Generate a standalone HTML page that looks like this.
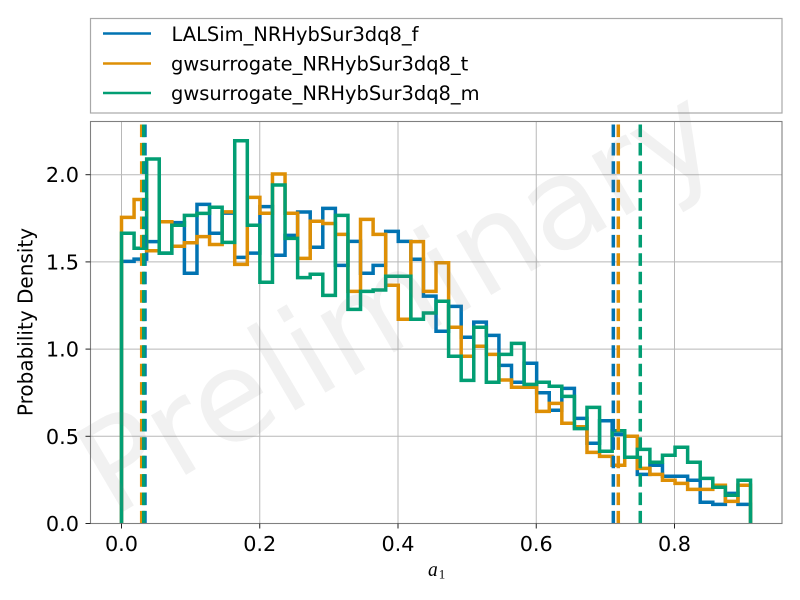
<!DOCTYPE html>
<html>
<head>
<meta charset="utf-8">
<title>Probability density of a1</title>
<style>
html,body{margin:0;padding:0;background:#fff;}
svg{display:block;font-family:"DejaVu Sans","Liberation Sans",sans-serif;}
</style>
</head>
<body>
<svg id="chart" xmlns="http://www.w3.org/2000/svg" width="800" height="600" viewBox="0 0 800 600">
  <rect x="0" y="0" width="800" height="600" fill="#ffffff"/>
  <g id="grid"></g>
  <g id="series"></g>
  <g id="medians"></g>
  <rect x="90.5" y="121.5" width="691.5" height="402" fill="none" stroke="#808080" stroke-width="1.1"/>
  <g id="ticks"></g>
  <text transform="translate(32.5,322) rotate(-90)" text-anchor="middle" font-size="20" fill="#000">Probability Density</text>
  <text x="428" y="576" font-family="'Liberation Serif',serif" font-style="italic" font-size="19.5" fill="#000">a<tspan font-style="normal" font-size="13" dy="2.5" dx="1">1</tspan></text>
  <g>
    <rect x="90.5" y="18.5" width="691.5" height="94.5" fill="#ffffff" stroke="#a8a8a8" stroke-width="1.2"/>
    <line x1="103" x2="151" y1="33.5" y2="33.5" stroke="#0173b2" stroke-width="2.5"/>
    <text x="171.5" y="41" font-size="19.45" fill="#000">LALSim_NRHybSur3dq8_f</text>
    <line x1="103" x2="151" y1="63.5" y2="63.5" stroke="#de8f05" stroke-width="2.5"/>
    <text x="171" y="70.5" font-size="19.45" fill="#000">gwsurrogate_NRHybSur3dq8_t</text>
    <line x1="103" x2="151" y1="93" y2="93" stroke="#029e73" stroke-width="2.5"/>
    <text x="171" y="100" font-size="19.45" fill="#000">gwsurrogate_NRHybSur3dq8_m</text>
  </g>
  <text transform="translate(397,300) rotate(-30.5)" text-anchor="middle" dominant-baseline="central" font-size="126" fill="#808080" fill-opacity="0.11">Preliminary</text>
</svg>
<script>
const binStart = 0;
const binWidth = 0.0182;
const seriesF = [1.503,1.516,1.616,1.55,1.725,1.435,1.83,1.664,1.78,1.526,1.55,1.817,1.538,1.652,1.786,1.584,1.807,1.48,1.618,1.435,1.48,1.675,1.618,1.515,1.304,1.102,1.245,1.068,1.155,1.079,0.907,0.81,0.919,0.75,0.649,0.775,0.603,0.46,0.589,0.511,0.38,0.282,0.334,0.271,0.271,0.248,0.122,0.11,0.173,0.11];
const seriesT = [1.755,1.858,1.564,1.73,1.59,1.61,1.645,1.6,1.787,1.486,1.87,1.779,2.004,1.779,1.52,1.733,1.72,1.658,1.331,1.744,1.658,1.366,1.171,1.616,1.331,1.495,1.125,0.959,1.016,0.97,0.823,0.781,0.781,0.643,0.689,0.575,0.555,0.408,0.385,0.334,0.5,0.316,0.282,0.248,0.23,0.196,0.196,0.219,0.127,0.219];
const seriesM = [1.664,1.578,2.09,1.55,1.71,1.767,1.778,1.813,1.612,2.195,1.71,1.383,1.941,1.635,1.41,1.429,1.308,1.767,1.228,1.331,1.339,1.418,1.418,1.171,1.207,1.274,0.959,0.821,1.125,0.81,0.97,1.033,0.798,0.81,0.787,0.729,0.544,0.666,0.414,0.532,0.38,0.425,0.351,0.391,0.437,0.351,0.259,0.208,0.162,0.248];
const boundsF = [0.034,0.7115];
const boundsT = [0.0292,0.7187];
const boundsM = [0.0322,0.7505];
const xTicks = [0,0.2,0.4,0.6,0.8];
const yTicks = [0,0.5,1,1.5,2];
const xTickLabels = ["0.0","0.2","0.4","0.6","0.8"];
const yTickLabels = ["0.0","0.5","1.0","1.5","2.0"];

const NS = "http://www.w3.org/2000/svg";
const plotLeft = 90.5, plotRight = 782, plotTop = 121.5, plotBottom = 523.5;
function xScale(v){ return 121.5 + v * 691.25; }
function yScale(v){ return 523.5 - v * 174.4; }

function stepPath(values){
  let x = xScale(binStart);
  let d = "M" + x.toFixed(2) + " " + yScale(0).toFixed(2);
  values.forEach(function(v, i){
    const next = xScale(binStart + (i + 1) * binWidth);
    d += "V" + yScale(v).toFixed(2) + "H" + next.toFixed(2);
  });
  d += "V" + yScale(0).toFixed(2);
  return d;
}

const gridGroup = document.getElementById("grid");
const tickGroup = document.getElementById("ticks");
const seriesGroup = document.getElementById("series");
const medianGroup = document.getElementById("medians");

xTicks.forEach(function(t, i){
  const x = xScale(t);
  const g = document.createElementNS(NS, "line");
  
  
  g.setAttribute("x1", x); g.setAttribute("x2", x);
  g.setAttribute("y1", plotTop); g.setAttribute("y2", plotBottom);
  g.setAttribute("stroke", "#b8b8b8"); g.setAttribute("stroke-width", "1");
  gridGroup.appendChild(g);
  const m = document.createElementNS(NS, "line");
  
  
  m.setAttribute("x1", x); m.setAttribute("x2", x);
  m.setAttribute("y1", plotBottom); m.setAttribute("y2", plotBottom + 5);
  m.setAttribute("stroke", "#222"); m.setAttribute("stroke-width", "1");
  tickGroup.appendChild(m);
  const l = document.createElementNS(NS, "text");
  
  
  l.setAttribute("x", x); l.setAttribute("y", 551);
  l.setAttribute("text-anchor", "middle");
  l.setAttribute("font-size", "20.8"); l.setAttribute("fill", "#000");
  l.textContent = xTickLabels[i];
  tickGroup.appendChild(l);
});

yTicks.forEach(function(t, i){
  const y = yScale(t);
  const g = document.createElementNS(NS, "line");
  
  
  g.setAttribute("x1", plotLeft); g.setAttribute("x2", plotRight);
  g.setAttribute("y1", y); g.setAttribute("y2", y);
  g.setAttribute("stroke", "#b8b8b8"); g.setAttribute("stroke-width", "1");
  gridGroup.appendChild(g);
  const m = document.createElementNS(NS, "line");
  
  
  m.setAttribute("x1", plotLeft - 5); m.setAttribute("x2", plotLeft);
  m.setAttribute("y1", y); m.setAttribute("y2", y);
  m.setAttribute("stroke", "#222"); m.setAttribute("stroke-width", "1");
  tickGroup.appendChild(m);
  const l = document.createElementNS(NS, "text");
  
  
  l.setAttribute("x", 79); l.setAttribute("y", y + 7.5);
  l.setAttribute("text-anchor", "end");
  l.setAttribute("font-size", "20.8"); l.setAttribute("fill", "#000");
  l.textContent = yTickLabels[i];
  tickGroup.appendChild(l);
});

const hF = document.createElementNS(NS, "path");


hF.setAttribute("d", stepPath(seriesF));
hF.setAttribute("fill", "none"); hF.setAttribute("stroke", "#0173b2"); hF.setAttribute("stroke-width", "3.5");
hF.setAttribute("stroke-linejoin", "miter");
seriesGroup.appendChild(hF);

const hT = document.createElementNS(NS, "path");


hT.setAttribute("d", stepPath(seriesT));
hT.setAttribute("fill", "none"); hT.setAttribute("stroke", "#de8f05"); hT.setAttribute("stroke-width", "3.5");
hT.setAttribute("stroke-linejoin", "miter");
seriesGroup.appendChild(hT);

const hM = document.createElementNS(NS, "path");


hM.setAttribute("d", stepPath(seriesM));
hM.setAttribute("fill", "none"); hM.setAttribute("stroke", "#029e73"); hM.setAttribute("stroke-width", "3.5");
hM.setAttribute("stroke-linejoin", "miter");
seriesGroup.appendChild(hM);

function addBound(v, color){
  const ln = document.createElementNS(NS, "line");
  
  
  ln.setAttribute("x1", xScale(v)); ln.setAttribute("x2", xScale(v));
  ln.setAttribute("y1", plotBottom); ln.setAttribute("y2", plotTop);
  ln.setAttribute("stroke", color); ln.setAttribute("stroke-width", "3.5");
  ln.setAttribute("stroke-dasharray", "12.6 5.8");
  medianGroup.appendChild(ln);
}
boundsF.forEach(function(v){ addBound(v, "#0173b2"); });
boundsT.forEach(function(v){ addBound(v, "#de8f05"); });
boundsM.forEach(function(v){ addBound(v, "#029e73"); });
</script>
</body>
</html>
